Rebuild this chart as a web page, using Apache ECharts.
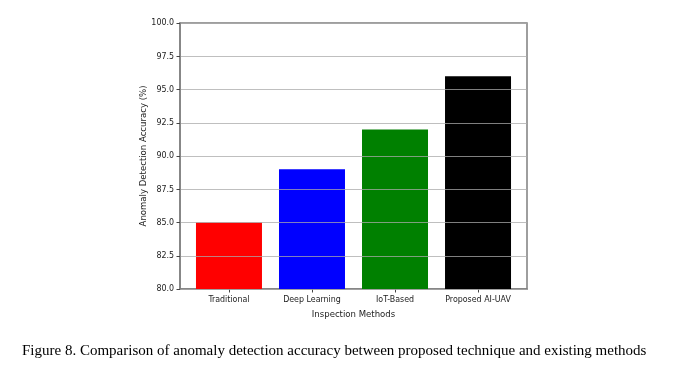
<!DOCTYPE html>
<html>
<head>
<meta charset="utf-8">
<script src="https://cdn.jsdelivr.net/npm/echarts@6/dist/echarts.min.js"></script>
<style>html,body{margin:0;padding:0;background:#fff;}#c{width:691px;height:380px;}</style>
</head>
<body>
<div id="c"></div>
<script>
const categories = ['Traditional', 'Deep Learning', 'IoT-Based', 'Proposed AI-UAV'];
const accuracy = [85.0, 89.0, 92.0, 96.0];
const barColors = ['#ff0000', '#0000ff', '#008000', '#000000'];

const chart = echarts.init(document.getElementById('c'), null, {renderer: 'canvas'});
const spine = '#7f7f7f';
const condensed = "'DejaVu Sans Condensed', 'DejaVu Sans'";
const tickFont = {fontFamily: condensed, fontSize: 8.8, color: '#222'};
chart.setOption({
  animation: false,
  backgroundColor: '#fff',
  title: {
    text: 'Figure 8. Comparison of anomaly detection accuracy between proposed technique and existing methods',
    left: 17, top: 339,
    textStyle: {fontFamily: 'Liberation Serif', fontSize: 15, fontWeight: 'normal', color: '#000'}
  },
  grid: {left: 180, right: 164, top: 23, bottom: 91, show: true, borderColor: spine, borderWidth: 1.5, backgroundColor: 'transparent'},
  xAxis: {
    type: 'value', min: -0.59, max: 3.59,
    name: 'Inspection Methods', nameLocation: 'middle', nameGap: 21,
    nameTextStyle: {fontFamily: condensed, fontSize: 9.5, color: '#222'},
    axisLine: {show: true, onZero: false, lineStyle: {color: spine, width: 1.5}},
    axisTick: {show: true, customValues: [0, 1, 2, 3], length: 3.5, lineStyle: {color: '#444'}},
    axisLabel: {customValues: [0, 1, 2, 3], formatter: v => categories[Math.round(v)], margin: 6, ...tickFont},
    splitLine: {show: false}
  },
  yAxis: {
    type: 'value', min: 80, max: 100, interval: 2.5, z: 5,
    name: 'Anomaly Detection Accuracy (%)', nameLocation: 'middle', nameGap: 31, nameRotate: 90,
    nameMoveOverlap: false,
    nameTextStyle: {fontFamily: condensed, fontSize: 9.5, color: '#222'},
    axisLine: {show: true, onZero: false, lineStyle: {color: spine, width: 1.5}},
    axisTick: {show: true, length: 3.5, lineStyle: {color: '#444'}},
    axisLabel: {formatter: v => v.toFixed(1), margin: 6, ...tickFont},
    splitLine: {show: true, lineStyle: {color: 'rgba(170,170,170,0.75)', width: 1}}
  },
  series: [{
    type: 'bar',
    barWidth: 66,
    data: categories.map((c, i) => ({value: [i, accuracy[i]], itemStyle: {color: barColors[i]}}))
  }]
});
</script>
</body>
</html>
